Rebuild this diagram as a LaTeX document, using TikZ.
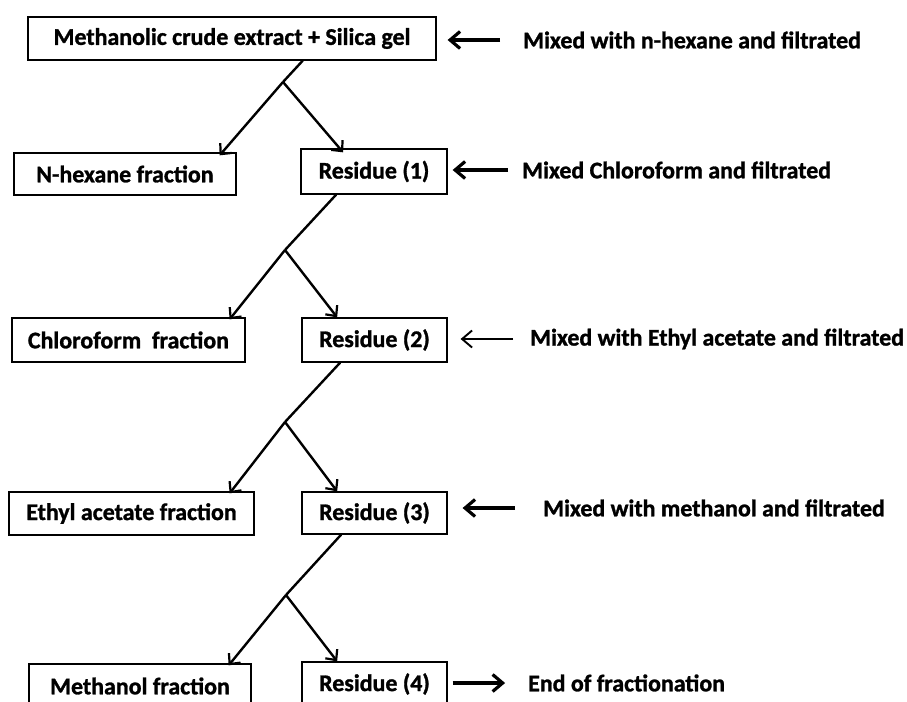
\documentclass[tikz,border=0pt]{standalone}
\usepackage{fontspec}
\setmainfont{Carlito}[BoldFeatures={FakeBold=1.2}]
\usetikzlibrary{arrows.meta}
\tikzset{
  box/.style   = {rectangle, draw=black, line width=1.3bp, fill=white,
                  inner sep=0pt, font=\fontsize{24}{28}\selectfont\bfseries},
  note/.style  = {anchor=west, inner sep=0pt, font=\fontsize{24}{28}\selectfont\bfseries},
  splitarr/.style = {line width=2.4bp, -{Straight Barb[length=8bp,width=15bp,line width=2.2bp]}},
  sidearr/.style  = {line width=3.8bp, -{Straight Barb[length=10bp,width=17bp,line width=3.2bp]}},
  thinarr/.style  = {line width=1.9bp, -{Straight Barb[length=10bp,width=17bp,line width=1.9bp]}},
}
\begin{document}
\begin{tikzpicture}[x=1bp, y=-1bp]
  \useasboundingbox (0,0) rectangle (907,702);
  \clip (0,0) rectangle (907,702);

  % boxes
  \node[box, minimum width=408bp, minimum height=43bp] (top)  at (232,38.5)  {Methanolic crude extract + Silica gel};
  \node[box, minimum width=222bp, minimum height=42bp] (nhex) at (125,174)   {N-hexane fraction};
  \node[box, minimum width=146bp, minimum height=45bp] (res1) at (374,171.5) {Residue (1)};
  \node[box, minimum width=233bp, minimum height=44bp] (chl)  at (128.5,340) {Chloroform\ \ fraction};
  \node[box, minimum width=145bp, minimum height=44bp] (res2) at (374.5,340) {Residue (2)};
  \node[box, minimum width=245bp, minimum height=43bp] (eth)  at (131.5,513.5) {Ethyl acetate fraction};
  \node[box, minimum width=145bp, minimum height=42bp] (res3) at (374.5,513) {Residue (3)};
  \node[box, minimum width=222bp, minimum height=44bp] (meth) at (140,686)   {Methanol fraction};
  \node[box, minimum width=145bp, minimum height=44bp] (res4) at (374.5,684) {Residue (4)};

  % side notes
  \node[note] (n1) at (523,40)  {Mixed with n-hexane and filtrated};
  \node[note] (n2) at (522,170) {Mixed Chloroform and filtrated};
  \node[note] (n3) at (530,339) {Mixed with Ethyl acetate and filtrated};
  \node[note] (n4) at (543,508) {Mixed with methanol and filtrated};
  \node[note] (n5) at (528,683) {End of fractionation};

  % split points
  \coordinate (s1) at (283,82);
  \coordinate (s2) at (285,250);
  \coordinate (s3) at (285,422);
  \coordinate (s4) at (286,595);

  \draw[line width=2.4bp] ([xshift=71]top.south) -- (s1);
  \draw[splitarr] (s1) -- ([xshift=95,yshift=-3]nhex.north);
  \draw[splitarr] (s1) -- ([xshift=-31,yshift=-4]res1.north);

  \draw[line width=2.4bp] ([xshift=-38]res1.south) -- (s2);
  \draw[splitarr] (s2) -- ([xshift=101.5,yshift=-2]chl.north);
  \draw[splitarr] (s2) -- ([xshift=-37.5]res2.north);

  \draw[line width=2.4bp] ([xshift=-34.5]res2.south) -- (s3);
  \draw[splitarr] (s3) -- ([xshift=98.5,yshift=-2]eth.north);
  \draw[splitarr] (s3) -- ([xshift=-37.5]res3.north);

  \draw[line width=2.4bp] ([xshift=-33.5]res3.south) -- (s4);
  \draw[splitarr] (s4) -- ([xshift=89,yshift=-2]meth.north);
  \draw[splitarr] (s4) -- ([xshift=-37.5]res4.north);

  % side arrows
  \draw[sidearr] ([xshift=-23]n1.west) -- ([xshift=11]top.east |- n1.west);
  \draw[sidearr] ([xshift=-14]n2.west) -- ([xshift=5]res1.east |- n2.west);
  \draw[thinarr] ([xshift=-17]n3.west) -- ([xshift=13]res2.east |- n3.west);
  \draw[sidearr] ([xshift=-28]n4.west) -- ([xshift=15]res3.east |- n4.west);
  \draw[sidearr] ([xshift=5]res4.east |- n5.west) -- ([xshift=-23]n5.west);
\end{tikzpicture}
\end{document}
